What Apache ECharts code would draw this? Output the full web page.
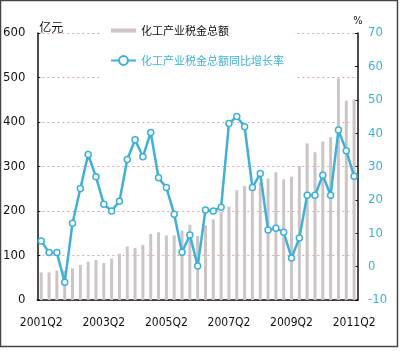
<!DOCTYPE html>
<html>
<head>
<meta charset="utf-8">
<script src="https://cdn.jsdelivr.net/npm/echarts@6/dist/echarts.min.js"></script>
<style>
  html, body { margin: 0; padding: 0; background: #fff; }
  #chartmain { width: 400px; height: 351px; }
</style>
</head>
<body>
<div id="chartmain"></div>
<script>
  // 季度
  var quarters = [
    '2001Q2', '2001Q3', '2001Q4', '2002Q1', '2002Q2', '2002Q3', '2002Q4', '2003Q1',
    '2003Q2', '2003Q3', '2003Q4', '2004Q1', '2004Q2', '2004Q3', '2004Q4', '2005Q1',
    '2005Q2', '2005Q3', '2005Q4', '2006Q1', '2006Q2', '2006Q3', '2006Q4', '2007Q1',
    '2007Q2', '2007Q3', '2007Q4', '2008Q1', '2008Q2', '2008Q3', '2008Q4', '2009Q1',
    '2009Q2', '2009Q3', '2009Q4', '2010Q1', '2010Q2', '2010Q3', '2010Q4', '2011Q1',
    '2011Q2'
  ];
  // 化工产业税金总额（亿元）
  var taxTotal = [
    62, 62, 66, 66, 71, 79, 86, 90, 83, 93,
    104, 120, 117, 124, 148, 152, 145, 145, 156, 169,
    144, 168, 181, 198, 210, 247, 256, 258, 265, 273,
    287, 271, 277, 301, 352, 332, 356, 366, 498, 448,
    451
  ];
  // 同比增长率（%）
  var taxGrowth = [
    7.7, 4.2, 4.2, -4.7, 13, 23.4, 33.6, 26.9, 18.7, 16.7,
    19.6, 32.1, 38, 32.9, 40.2, 26.6, 23.7, 15.7, 4.3, 9.5,
    0.2, 17, 16.7, 17.8, 42.9, 45, 41.9, 23.7, 27.9, 11,
    11.5, 10.3, 2.6, 8.6, 21.4, 21.4, 27.4, 21.4, 40.9, 34.7,
    27.1
  ];
  var leftTicks = [0, 600, 100];
  var rightTicks = [-10, 70, 10];

  var narrow = '"DejaVu Sans Condensed", "Liberation Sans Narrow", "Arial Narrow", sans-serif';
  var cjk = '"Noto Sans CJK SC", sans-serif';
  var cyan = '#3fb0d6';

  var myChart = echarts.init(document.getElementById('chartmain'));
  var option = {
    animation: false,
    backgroundColor: '#fff',
    grid: { left: 36, right: 42, top: 33, bottom: 51 },
    graphic: [{
      type: 'rect',
      shape: { x: 0.5, y: 0.5, width: 397, height: 346 },
      style: { fill: 'none', stroke: '#444', lineWidth: 1.5 },
      z: 100
    }],
    legend: {
      orient: 'vertical',
      left: 100,
      top: 20,
      padding: [5, 10, 12, 10],
      backgroundColor: '#fff',
      itemWidth: 25,
      itemHeight: 11,
      itemGap: 19,
      z: 10,
      data: [
        {
          name: '化工产业税金总额',
          icon: 'path://M0,0H24V4H0Z',
          textStyle: { color: '#111', fontSize: 11, fontFamily: cjk }
        },
        {
          name: '化工产业税金总额同比增长率',
          textStyle: { color: cyan, fontSize: 11, fontFamily: cjk }
        }
      ]
    },
    xAxis: {
      type: 'category',
      data: quarters,
      axisLine: { lineStyle: { color: '#111', width: 1.5 } },
      axisTick: { inside: true, interval: 1, length: 3, lineStyle: { color: '#111' } },
      axisLabel: { interval: 7, margin: 17, color: '#111', fontSize: 12, fontFamily: narrow },
      splitLine: { show: false }
    },
    yAxis: [
      {
        type: 'value',
        min: leftTicks[0],
        max: leftTicks[1],
        interval: leftTicks[2],
        name: '亿元',
        nameGap: 0,
        nameTextStyle: { align: 'left', verticalAlign: 'bottom', color: '#111', fontSize: 12, fontFamily: cjk, padding: [0, 0, 0, 2] },
        axisLine: { show: true, lineStyle: { color: '#111', width: 1.5 } },
        axisTick: { show: true, inside: true, length: 3, lineStyle: { color: '#111' } },
        axisLabel: { margin: 12, color: '#111', fontSize: 13, fontFamily: narrow },
        splitLine: { show: true, lineStyle: { color: '#d9a8a8', type: [2, 3], width: 1 } }
      },
      {
        type: 'value',
        min: rightTicks[0],
        max: rightTicks[1],
        interval: rightTicks[2],
        position: 'right',
        name: '%',
        nameGap: 3,
        nameTextStyle: { align: 'center', color: '#111', fontSize: 11, fontFamily: narrow },
        axisLine: { show: true, lineStyle: { color: '#111', width: 1.5 } },
        axisTick: { show: true, inside: true, length: 3, lineStyle: { color: '#111' } },
        axisLabel: { margin: 10, color: cyan, fontSize: 13, fontFamily: narrow },
        splitLine: { show: false }
      }
    ],
    series: [
      {
        name: '化工产业税金总额',
        type: 'bar',
        yAxisIndex: 0,
        barWidth: 3,
        data: taxTotal,
        itemStyle: { color: '#cdc5c5' }
      },
      {
        name: '化工产业税金总额同比增长率',
        type: 'line',
        yAxisIndex: 1,
        data: taxGrowth,
        symbol: 'circle',
        symbolSize: 6,
        showSymbol: true,
        showAllSymbol: true,
        lineStyle: { color: cyan, width: 2.5 },
        itemStyle: { color: '#fff', borderColor: cyan, borderWidth: 1.5 },
        z: 5
      }
    ]
  };
  myChart.setOption(option);
</script>
</body>
</html>
